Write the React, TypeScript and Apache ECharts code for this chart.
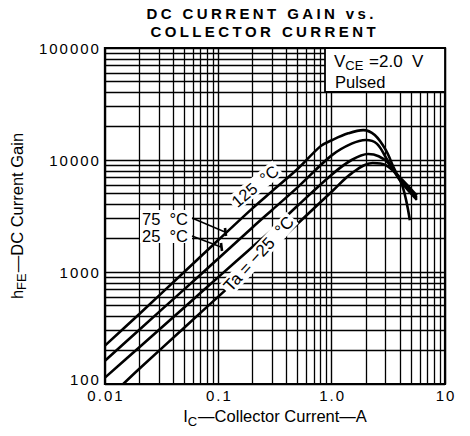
import React, { useEffect, useRef } from "react";
import * as echarts from "echarts";

// ---- data ----
const ic125 = [0.01, 0.02, 0.05, 0.1, 0.2, 0.3, 0.5, 0.8, 1.0, 1.4, 1.9, 2.4, 3.0, 3.5, 4.25, 4.9];
const hfe125 = [220, 420, 1000, 1930, 3700, 5300, 8300, 13300, 15000, 17300, 18500, 16700, 12300, 8700, 5700, 2900];

const ic75 = [0.01, 0.02, 0.05, 0.1, 0.2, 0.3, 0.5, 1.0, 1.5, 2.0, 2.5, 3.1, 4.0, 5.65];
const hfe75 = [161, 304, 700, 1320, 2500, 3600, 5700, 11000, 14000, 15100, 14000, 10000, 6600, 4400];

const ic25 = [0.01, 0.02, 0.05, 0.1, 0.2, 0.3, 0.5, 1.0, 1.5, 2.1, 2.6, 3.2, 4.0, 5.65];
const hfe25 = [114, 212, 482, 900, 1670, 2400, 3900, 7400, 10000, 11300, 10800, 9300, 6800, 4600];

const icM25 = [0.0145, 0.02, 0.05, 0.1, 0.2, 0.3, 0.5, 1.0, 1.5, 2.3, 3.0, 4.0, 5.65];
const hfeM25 = [100, 136, 318, 603, 1140, 1660, 2700, 5200, 7600, 9400, 9000, 7000, 4800];

const xDecades = [0.01, 0.1, 1];
const yDecades = [100, 1000, 10000];
const minorMultipliers = [2, 3, 4, 5, 6, 7, 8, 9];
const xTickValues = [0.01, 0.1, 1, 10];
const xTickLabels = ["0.01", "0.1", "1.0", "10"];

const FONT = "Liberation Sans";

function spaced(text: string, style: string) {
  return text
    .split("")
    .map((c) => `{${style}|${c === " " ? "\u00a0" : c}}`)
    .join("");
}

function pairs(xs: number[], ys: number[]) {
  return xs.map((x, i) => [x, ys[i]]);
}

export default function App() {
  const ref = useRef<HTMLDivElement>(null);

  useEffect(() => {
    document.body.style.margin = "0";
    const chart = echarts.init(ref.current!, undefined, { renderer: "svg" });

    const vLines: any[] = [];
    xDecades.forEach((d) => minorMultipliers.forEach((m) => vLines.push({ xAxis: +(d * m).toPrecision(6) })));
    const hLines: any[] = [];
    yDecades.forEach((d) => minorMultipliers.forEach((m) => hLines.push({ yAxis: d * m })));

    const curveStyle = { color: "#000", width: 2.6 };
    const mkCurve = (name: string, xs: number[], ys: number[]) => ({
      name,
      type: "line",
      data: pairs(xs, ys),
      smooth: 0.35,
      symbol: "none",
      lineStyle: curveStyle,
      z: 5,
      silent: true,
    });

    const tickRich = {
      d: { fontFamily: FONT, fontSize: 15, color: "#000", padding: [0, 1] },
      e: { fontFamily: FONT, fontSize: 15, color: "#000", padding: [0, 1, 10, 1] },
    };
    const titleRich = {
      t: { fontFamily: FONT, fontSize: 15, fontWeight: "bold", color: "#000", padding: [0, 1.7] },
    };
    const nameRich = {
      m: { fontFamily: FONT, fontSize: 16.5, color: "#000", lineHeight: 17, verticalAlign: "top" },
      s: { fontFamily: FONT, fontSize: 13, color: "#000", lineHeight: 13, verticalAlign: "top", padding: [7, 1, 0, 0] },
    };

    chart.setOption({
      animation: false,
      backgroundColor: "#fff",
      grid: {
        left: 82,
        right: 25,
        top: 48,
        bottom: 52,
        show: true,
        borderColor: "#000",
        borderWidth: 2.2,
        backgroundColor: "transparent",
        z: 20,
      },
      xAxis: {
        type: "log",
        logBase: 10,
        min: 0.01,
        max: 10,
        axisLine: { show: false },
        axisTick: { show: false },
        splitLine: { show: true, lineStyle: { color: "#000", width: 1.4 } },
        axisLabel: {
          margin: 4,
          color: "#000",
          formatter: (v: number) => {
            const idx = xTickValues.findIndex((t) => Math.abs(t - v) / t < 1e-6);
            const s = idx >= 0 ? xTickLabels[idx] : String(v);
            return spaced(s, "d");
          },
          rich: tickRich,
        },
        name: "{m|I}{s|C}{m|—Collector Current—A}",
        nameLocation: "middle",
        nameGap: 17,
        nameTextStyle: { rich: nameRich },
      },
      yAxis: {
        type: "log",
        logBase: 10,
        min: 100,
        max: 100000,
        axisLine: { show: false },
        axisTick: { show: false },
        splitLine: { show: true, lineStyle: { color: "#000", width: 1.4 } },
        axisLabel: {
          margin: 5,
          color: "#000",
          formatter: (v: number) => {
            const r = Math.round(v);
            return spaced(String(r), r === 100 ? "e" : "d");
          },
          rich: tickRich,
        },
        name: "{m|h}{s|FE}{m|—DC Current Gain}",
        nameLocation: "middle",
        nameGap: 53,
        nameTextStyle: { rich: nameRich },
      },
      series: [
        {
          name: "grid",
          type: "line",
          data: [],
          symbol: "none",
          silent: true,
          z: 2,
          markLine: {
            silent: true,
            symbol: "none",
            label: { show: false },
            lineStyle: { color: "#000", width: 1.3, type: "solid" },
            data: [...vLines, ...hLines],
          },
        },
        mkCurve("125 °C", ic125, hfe125),
        mkCurve("75 °C", ic75, hfe75),
        mkCurve("25 °C", ic25, hfe25),
        mkCurve("−25 °C", icM25, hfeM25),
      ],
      graphic: [
        // title
        {
          type: "text",
          x: 260,
          y: 13,
          z: 100,
          style: { text: spaced("DC CURRENT GAIN vs.", "t"), rich: titleRich, align: "center", verticalAlign: "middle" },
        },
        {
          type: "text",
          x: 263,
          y: 31,
          z: 100,
          style: { text: spaced("COLLECTOR CURRENT", "t"), rich: titleRich, align: "center", verticalAlign: "middle" },
        },
        // VCE box
        {
          type: "rect",
          z: 90,
          shape: { x: 325, y: 48, width: 120, height: 44 },
          style: { fill: "#fff", stroke: "#000", lineWidth: 1.8 },
        },
        {
          type: "text",
          x: 334,
          y: 61,
          z: 100,
          style: {
            text: "{v|V}{s|CE}{v|\u00a0=2.0\u00a0\u00a0V}",
            rich: {
              v: { fontFamily: FONT, fontSize: 17, color: "#000", lineHeight: 17, verticalAlign: "top" },
              s: { fontFamily: FONT, fontSize: 13, color: "#000", lineHeight: 13, verticalAlign: "top", padding: [6, 1, 0, 0] },
            },
            verticalAlign: "middle",
            align: "left",
          },
        },
        {
          type: "text",
          x: 335,
          y: 82,
          z: 100,
          style: { text: "Pulsed", fontFamily: FONT, fontSize: 16.5, fill: "#000", verticalAlign: "middle", align: "left" },
        },
        // 75 / 25 labels
        {
          type: "rect",
          z: 90,
          shape: { x: 140, y: 210, width: 52, height: 33 },
          style: { fill: "#fff" },
        },
        {
          type: "text",
          x: 142,
          y: 219,
          z: 100,
          style: { text: "75  °C", fontFamily: FONT, fontSize: 16.5, fill: "#000", verticalAlign: "middle", align: "left" },
        },
        {
          type: "text",
          x: 142,
          y: 236,
          z: 100,
          style: { text: "25  °C", fontFamily: FONT, fontSize: 16.5, fill: "#000", verticalAlign: "middle", align: "left" },
        },
        { type: "line", z: 100, shape: { x1: 192, y1: 218, x2: 225, y2: 232 }, style: { stroke: "#000", lineWidth: 1.4 } },
        { type: "line", z: 100, shape: { x1: 192, y1: 236, x2: 221, y2: 247 }, style: { stroke: "#000", lineWidth: 1.4 } },
        { type: "line", z: 100, shape: { x1: 225, y1: 228, x2: 226, y2: 236 }, style: { stroke: "#000", lineWidth: 2.6 } },
        { type: "line", z: 100, shape: { x1: 221, y1: 243, x2: 222, y2: 251 }, style: { stroke: "#000", lineWidth: 2.6 } },
        // rotated labels
        {
          type: "text",
          x: 255,
          y: 186,
          rotation: 0.69,
          z: 100,
          style: {
            text: "125  °C",
            fontFamily: FONT,
            fontSize: 16.5,
            fill: "#000",
            align: "center",
            verticalAlign: "middle",
            backgroundColor: "#fff",
            padding: [0, 2],
          },
        },
        {
          type: "text",
          x: 259,
          y: 254,
          rotation: 0.83,
          z: 100,
          style: {
            text: "Ta = −25  °C",
            fontFamily: FONT,
            fontSize: 17,
            fill: "#000",
            align: "center",
            verticalAlign: "middle",
            backgroundColor: "#fff",
            padding: [0, 2],
          },
        },
      ],
    });

    return () => chart.dispose();
  }, []);

  return <div ref={ref} style={{ width: 470, height: 436 }} />;
}
